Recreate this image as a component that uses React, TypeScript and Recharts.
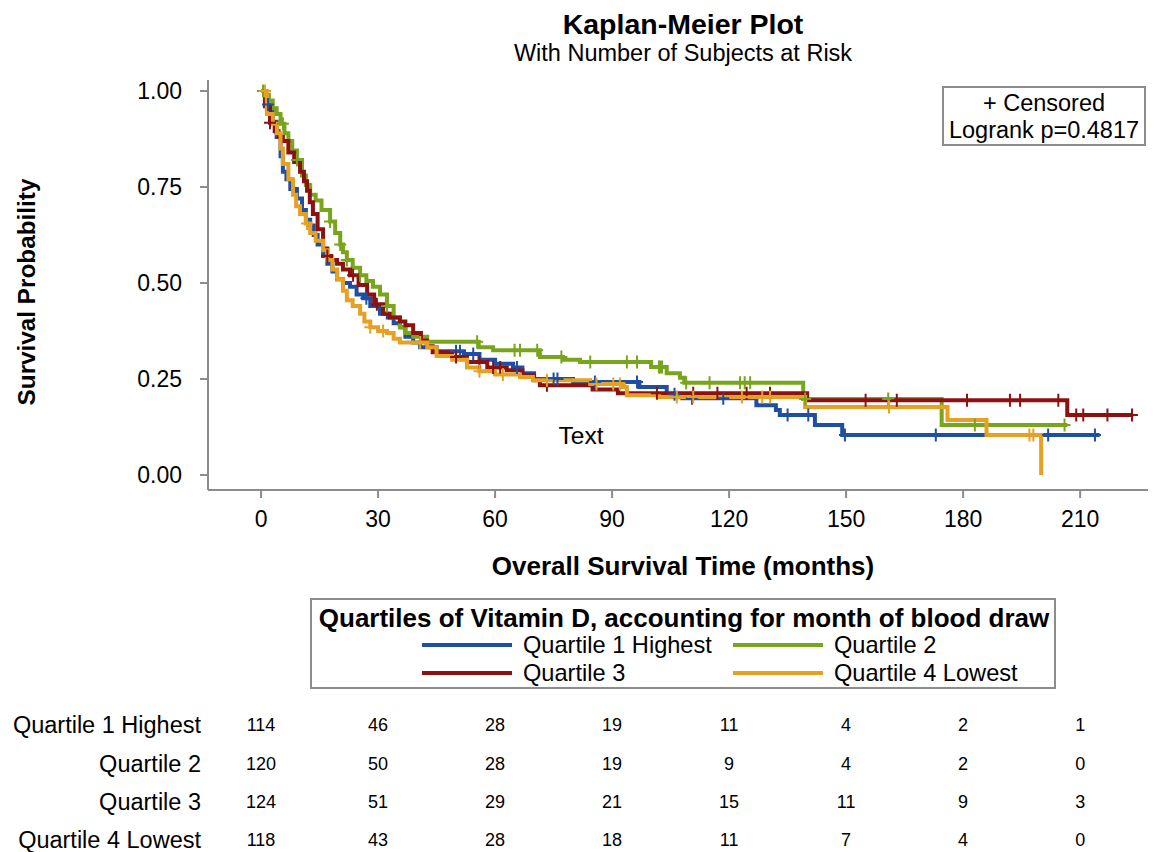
import React from 'react';
import { ComposedChart, Line, Scatter, XAxis, YAxis } from 'recharts';

const FONT = '"Liberation Sans", Arial, Helvetica, sans-serif';

// ---- Kaplan-Meier step curves (time in months, survival probability) ----
const q1Times = [0, 1.2, 2, 3, 4, 5, 5.6, 6.5, 7.5, 9.2, 10.5, 11.5, 12.6, 13.5, 14.5, 15.9, 17, 18.3, 19.5, 21, 22.8, 24.5, 26.2, 28, 30.5, 32.5, 34, 35.6, 37, 39, 40.8, 45, 52, 56, 60, 64.6, 67, 70, 80, 97, 104, 108, 127, 132, 133, 142, 149, 215];
const q1Surv = [1, 0.965, 0.947, 0.92, 0.88, 0.83, 0.79, 0.77, 0.745, 0.72, 0.69, 0.665, 0.65, 0.625, 0.6, 0.57, 0.55, 0.53, 0.51, 0.5, 0.49, 0.47, 0.46, 0.44, 0.42, 0.41, 0.395, 0.385, 0.36, 0.345, 0.333, 0.322, 0.315, 0.3, 0.29, 0.28, 0.265, 0.25, 0.242, 0.229, 0.21, 0.2, 0.182, 0.169, 0.156, 0.13, 0.104, 0.104];
const q1Cens = [1.8, 27, 50, 51, 54.4, 65.6, 75, 76, 85.6, 96.4, 106, 110.5, 118.5, 135, 140.3, 149.7, 173, 201.8, 213.8];

const q2Times = [0, 1, 2, 3, 4, 5, 6, 7, 8, 9.2, 10.5, 11.5, 12.6, 14, 15.5, 17.7, 19, 20.3, 21, 22, 23.5, 25.4, 27, 28.7, 30.5, 32.3, 34, 35.6, 37, 39, 42.6, 55.8, 59.5, 71.5, 77.4, 81.8, 100, 104, 107.4, 108.5, 139, 174.5, 206.7];
const q2Surv = [1, 0.99, 0.975, 0.955, 0.94, 0.915, 0.89, 0.87, 0.845, 0.82, 0.78, 0.755, 0.73, 0.715, 0.69, 0.66, 0.63, 0.6, 0.58, 0.56, 0.54, 0.52, 0.505, 0.49, 0.47, 0.44, 0.41, 0.385, 0.37, 0.36, 0.347, 0.333, 0.325, 0.307, 0.3, 0.294, 0.281, 0.265, 0.253, 0.24, 0.198, 0.13, 0.13];
const q2Cens = [0.5, 5.6, 9.2, 17.7, 20.3, 22, 25.4, 32.3, 55.4, 65, 66.4, 70.8, 77, 84.4, 93.8, 96.4, 102, 102.3, 102.8, 109, 115, 122.8, 124, 125.4, 139.5, 160.8, 183, 206];

const q3Times = [0, 1, 2.3, 3.5, 4.5, 5.6, 7, 8.5, 10, 11, 11.8, 12.5, 13.3, 14.5, 15.9, 17, 18, 19.5, 21, 22.8, 25, 27.2, 29, 31.3, 33, 35.6, 37, 39, 41, 42.5, 44, 49, 52.8, 58, 63, 67, 70, 71.5, 85, 91.5, 140, 206.7, 223.6];
const q3Surv = [1, 0.96, 0.917, 0.895, 0.88, 0.87, 0.84, 0.815, 0.79, 0.765, 0.74, 0.71, 0.68, 0.64, 0.59, 0.57, 0.56, 0.55, 0.535, 0.52, 0.495, 0.47, 0.445, 0.42, 0.41, 0.4, 0.39, 0.37, 0.35, 0.335, 0.32, 0.307, 0.294, 0.28, 0.273, 0.26, 0.247, 0.234, 0.223, 0.213, 0.195, 0.156, 0.156];
const q3Cens = [2.3, 17, 23.6, 29.7, 50, 56, 59.5, 61.3, 73.3, 101.5, 110.8, 117, 124.5, 130.5, 155, 163, 181, 192, 194.6, 204.4, 209, 210.8, 217, 223.3];

const q4Times = [0, 1.5, 3, 4.1, 5, 5.6, 7, 8.2, 9, 10, 11.5, 12.6, 14, 15.9, 17, 18.3, 19.5, 21, 22, 23.5, 25.4, 26.5, 28, 30, 32.3, 34, 35.6, 42.6, 45, 49, 52.8, 56, 60, 66.4, 69.7, 84.4, 92.8, 93.8, 102, 139.5, 176, 186, 200];
const q4Surv = [1, 0.94, 0.915, 0.89, 0.85, 0.81, 0.77, 0.73, 0.7, 0.68, 0.655, 0.63, 0.61, 0.585, 0.56, 0.535, 0.51, 0.48, 0.455, 0.44, 0.42, 0.4, 0.385, 0.375, 0.37, 0.355, 0.345, 0.333, 0.31, 0.3, 0.28, 0.27, 0.262, 0.255, 0.247, 0.237, 0.229, 0.208, 0.203, 0.177, 0.143, 0.104, 0];
const q4Cens = [1, 11.8, 28, 31.3, 40.8, 56, 62, 73.3, 86, 90.3, 92, 106.6, 110.8, 123.3, 128.5, 130.5, 161, 197, 198];

// ---- Number at risk ----
const riskTimes = [0, 30, 60, 90, 120, 150, 180, 210];
const riskQ1 = [114, 46, 28, 19, 11, 4, 2, 1];
const riskQ2 = [120, 50, 28, 19, 9, 4, 2, 0];
const riskQ3 = [124, 51, 29, 21, 15, 11, 9, 3];
const riskQ4 = [118, 43, 28, 18, 11, 7, 4, 0];

const groupNames = ['Quartile 1 Highest', 'Quartile 2', 'Quartile 3', 'Quartile 4 Lowest'];
const groupColors = ['#1f4fa3', '#78a51c', '#8c1111', '#e6a124'];

const xTicks = [0, 30, 60, 90, 120, 150, 180, 210];
const yTicks = [0, 0.25, 0.5, 0.75, 1];

// layout
const W = 1156;
const H = 852;
const PLOT_L = 208;
const PLOT_R = 1148;
const X_DOMAIN: [number, number] = [-13.6, 227.4];
const Y_DOMAIN: [number, number] = [-0.039, 1.0286];
const AXIS_COLOR = '#8c8c8c';

function stepAt(times: number[], surv: number[], t: number) {
  let s = surv[0];
  for (let i = 0; i < times.length; i++) {
    if (times[i] <= t) s = surv[i];
  }
  return s;
}

const groups = [
  { times: q1Times, surv: q1Surv, cens: q1Cens, risk: riskQ1 },
  { times: q2Times, surv: q2Surv, cens: q2Cens, risk: riskQ2 },
  { times: q3Times, surv: q3Surv, cens: q3Cens, risk: riskQ3 },
  { times: q4Times, surv: q4Surv, cens: q4Cens, risk: riskQ4 },
].map((g, i) => ({
  name: groupNames[i],
  color: groupColors[i],
  risk: g.risk,
  line: g.times.map((t, j) => ({ t, s: g.surv[j] })),
  cens: g.cens.map((t) => ({ t, s: stepAt(g.times, g.surv, t) })),
}));

const xPix = (t: number) => PLOT_L + ((t - X_DOMAIN[0]) / (X_DOMAIN[1] - X_DOMAIN[0])) * (PLOT_R - PLOT_L);

const makePlus = (color: string) => (props: any) => {
  const { cx, cy } = props;
  if (cx == null || cy == null) return <g />;
  return (
    <path
      d={`M${cx - 6},${cy}H${cx + 6}M${cx},${cy - 6.5}V${cy + 6.5}`}
      stroke={color}
      strokeWidth={2}
      fill="none"
    />
  );
};

export default function App() {
  const riskRows = [725, 764, 802, 840];
  return (
    <div style={{ position: 'relative', width: W, height: H, background: '#fff', overflow: 'hidden', fontFamily: FONT }}>
      <style>{`body{margin:0}`}</style>
      <div style={{ position: 'absolute', left: 0, top: 0 }}>
        <ComposedChart width={W} height={600} margin={{ top: 80, right: 8, bottom: 30, left: 148 }}>
          <XAxis
            type="number"
            dataKey="t"
            domain={X_DOMAIN}
            ticks={xTicks}
            allowDataOverflow
            height={80}
            tickSize={8}
            tickMargin={13}
            axisLine={{ stroke: AXIS_COLOR, strokeWidth: 2 }}
            tickLine={{ stroke: AXIS_COLOR, strokeWidth: 2 }}
            tick={{ fill: '#000', fontSize: 23, fontFamily: FONT }}
          />
          <YAxis
            type="number"
            dataKey="s"
            domain={Y_DOMAIN}
            ticks={yTicks}
            allowDataOverflow
            width={60}
            tickSize={8}
            tickMargin={18}
            tickFormatter={(v: number) => v.toFixed(2)}
            axisLine={{ stroke: AXIS_COLOR, strokeWidth: 2 }}
            tickLine={{ stroke: AXIS_COLOR, strokeWidth: 2 }}
            tick={{ fill: '#000', fontSize: 23, fontFamily: FONT }}
          />
          <XAxis
            xAxisId="top"
            orientation="top"
            type="number"
            domain={[0, 1]}
            height={0}
            tick={false}
            tickLine={false}
            axisLine={{ stroke: AXIS_COLOR, strokeWidth: 2 }}
          />
          <YAxis
            yAxisId="right"
            orientation="right"
            type="number"
            domain={[0, 1]}
            width={0}
            tick={false}
            tickLine={false}
            axisLine={{ stroke: AXIS_COLOR, strokeWidth: 2 }}
          />
          {groups.map((g) => (
            <Line
              key={'l' + g.name}
              data={g.line}
              dataKey="s"
              type="stepAfter"
              stroke={g.color}
              strokeWidth={4}
              dot={false}
              activeDot={false}
              isAnimationActive={false}
            />
          ))}
          {groups.map((g) => (
            <Scatter
              key={'c' + g.name}
              data={g.cens}
              dataKey="s"
              shape={makePlus(g.color)}
              isAnimationActive={false}
            />
          ))}
        </ComposedChart>
      </div>
      <svg
        width={W}
        height={H}
        style={{ position: 'absolute', left: 0, top: 0, pointerEvents: 'none' }}
        fontFamily={FONT}
      >
        <text x={683} y={24} textAnchor="middle" dominantBaseline="central" fontSize={28.5} fontWeight="bold" fill="#000">
          Kaplan-Meier Plot
        </text>
        <text x={683} y={53} textAnchor="middle" dominantBaseline="central" fontSize={23.5} fill="#000">
          With Number of Subjects at Risk
        </text>
        <rect x={943} y={87} width={202} height={58} fill="#fff" stroke={AXIS_COLOR} strokeWidth={2} />
        <text x={1044} y={103} textAnchor="middle" dominantBaseline="central" fontSize={23.5} fill="#000">
          + Censored
        </text>
        <text x={1044} y={130} textAnchor="middle" dominantBaseline="central" fontSize={23.5} fill="#000">
          Logrank p=0.4817
        </text>
        <text x={581} y={435} textAnchor="middle" dominantBaseline="central" fontSize={24.5} fill="#000">
          Text
        </text>
        <text
          x={26}
          y={292}
          transform="rotate(-90 26 292)"
          textAnchor="middle"
          dominantBaseline="central"
          fontSize={24.3}
          fontWeight="bold"
          fill="#000"
        >
          Survival Probability
        </text>
        <text x={683} y={566} textAnchor="middle" dominantBaseline="central" fontSize={26} fontWeight="bold" fill="#000">
          Overall Survival Time (months)
        </text>
        {/* legend */}
        <rect x={311} y={599} width={744} height={89} fill="#fff" stroke={AXIS_COLOR} strokeWidth={2} />
        <text x={684} y={618} textAnchor="middle" dominantBaseline="central" fontSize={26} fontWeight="bold" fill="#000">
          Quartiles of Vitamin D, accounting for month of blood draw
        </text>
        {groups.map((g, i) => {
          const col = i % 2;
          const row = Math.floor(i / 2);
          const lx = col === 0 ? 422 : 733;
          const ly = 645 + row * 28;
          return (
            <g key={'lg' + g.name}>
              <line x1={lx} x2={lx + 90} y1={ly} y2={ly} stroke={g.color} strokeWidth={4} />
              <text x={lx + 101} y={ly} dominantBaseline="central" fontSize={23.6} fill="#000">
                {g.name}
              </text>
            </g>
          );
        })}
        {/* number at risk table */}
        {groups.map((g, i) => (
          <g key={'rk' + g.name}>
            <text x={201} y={riskRows[i]} textAnchor="end" dominantBaseline="central" fontSize={23.5} fill="#000">
              {g.name}
            </text>
            {g.risk.map((n, j) => (
              <text
                key={j}
                x={xPix(riskTimes[j])}
                y={riskRows[i]}
                textAnchor="middle"
                dominantBaseline="central"
                fontSize={18}
                fill="#000"
              >
                {n}
              </text>
            ))}
          </g>
        ))}
      </svg>
    </div>
  );
}
